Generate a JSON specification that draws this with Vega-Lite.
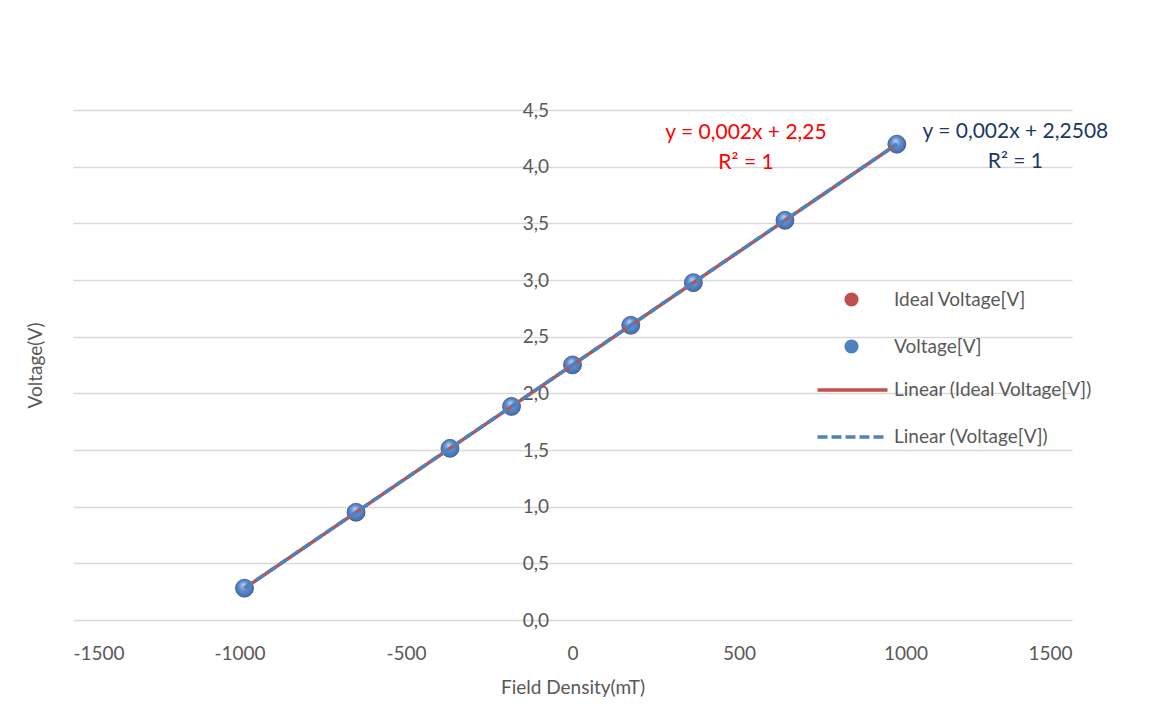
{
  "$schema": "https://vega.github.io/schema/vega-lite/v6.json",
  "width": 999,
  "height": 510,
  "autosize": {"type": "none"},
  "padding": {"left": 73, "top": 110, "right": 77, "bottom": 97},
  "background": "white",
  "config": {
    "view": {"stroke": null},
    "font": "Lato",
    "axis": {
      "labelFont": "Lato",
      "titleFont": "Lato",
      "labelColor": "#595959",
      "titleColor": "#595959",
      "labelFontSize": 19,
      "titleFontSize": 19,
      "titleFontWeight": "normal",
      "gridColor": "#d9d9d9",
      "gridWidth": 1.3,
      "domain": false,
      "ticks": false
    },
    "legend": {
      "labelFont": "Lato",
      "labelFontSize": 19,
      "labelColor": "#595959",
      "labelLimit": 0,
      "padding": 0
    }
  },
  "datasets": {
    "pts": [
      {"series": "Ideal Voltage[V]", "B": -985, "V": 0.28},
      {"series": "Ideal Voltage[V]", "B": -650, "V": 0.95},
      {"series": "Ideal Voltage[V]", "B": -368, "V": 1.514},
      {"series": "Ideal Voltage[V]", "B": -183, "V": 1.884},
      {"series": "Ideal Voltage[V]", "B": 0, "V": 2.25},
      {"series": "Ideal Voltage[V]", "B": 175, "V": 2.6},
      {"series": "Ideal Voltage[V]", "B": 363, "V": 2.976},
      {"series": "Ideal Voltage[V]", "B": 638, "V": 3.526},
      {"series": "Ideal Voltage[V]", "B": 974, "V": 4.198},
      {"series": "Voltage[V]", "B": -985, "V": 0.281},
      {"series": "Voltage[V]", "B": -650, "V": 0.951},
      {"series": "Voltage[V]", "B": -368, "V": 1.515},
      {"series": "Voltage[V]", "B": -183, "V": 1.885},
      {"series": "Voltage[V]", "B": 0, "V": 2.251},
      {"series": "Voltage[V]", "B": 175, "V": 2.601},
      {"series": "Voltage[V]", "B": 363, "V": 2.977},
      {"series": "Voltage[V]", "B": 638, "V": 3.527},
      {"series": "Voltage[V]", "B": 974, "V": 4.199}
    ],
    "eq": [
      {"ideal": "y = 0,002x + 2,25\nR² = 1", "measured": "y = 0,002x + 2,2508\nR² = 1"}
    ]
  },
  "data": {"name": "pts"},
  "layer": [
    {
      "mark": {"type": "point", "filled": true, "opacity": 0, "size": 200},
      "encoding": {
        "x": {
          "field": "B", "type": "quantitative",
          "scale": {"domain": [-1500, 1500], "nice": false, "zero": false},
          "axis": {
            "title": "Field Density(mT)",
            "grid": false,
            "values": [-1500, -1000, -500, 0, 500, 1000, 1500],
            "labelExpr": "toString(datum.value)",
            "labelPadding": 24,
            "titlePadding": 15
          }
        },
        "y": {
          "field": "V", "type": "quantitative",
          "scale": {"domain": [0, 4.5], "nice": false},
          "axis": {
            "title": "Voltage(V)",
            "grid": true,
            "values": [0, 0.5, 1, 1.5, 2, 2.5, 3, 3.5, 4, 4.5],
            "labelExpr": "replace(format(datum.value, '.1f'), '.', ',')",
            "offset": -499.5,
            "labelPadding": 24,
            "titleX": -537,
            "titleY": 255,
            "titleBaseline": "middle",
            "titleAlign": "center"
          }
        },
        "fill": {
          "field": "series", "type": "nominal",
          "scale": {"domain": ["Ideal Voltage[V]", "Voltage[V]"], "range": ["#c0504d", "#4f81bd"]},
          "legend": {
            "title": null,
            "orient": "none",
            "legendX": 769,
            "legendY": 180,
            "symbolOpacity": 1,
            "symbolSize": 200,
            "symbolStrokeWidth": 0,
            "rowPadding": 27,
            "labelOffset": 33
          }
        }
      }
    },
    {
      "transform": [{"filter": "datum.series === 'Ideal Voltage[V]'"}],
      "mark": {
        "type": "point", "filled": true, "size": 320,
        "stroke": "#9a3a37", "strokeWidth": 0.5, "opacity": 1,
        "fill": {
          "gradient": "radial", "x1": 0.42, "y1": 0.3, "r1": 0, "x2": 0.5, "y2": 0.5, "r2": 0.6,
          "stops": [
            {"offset": 0, "color": "#f2b8b6"},
            {"offset": 0.45, "color": "#c9605c"},
            {"offset": 1, "color": "#9a3a37"}
          ]
        }
      },
      "encoding": {
        "x": {"field": "B", "type": "quantitative"},
        "y": {"field": "V", "type": "quantitative"}
      }
    },
    {
      "transform": [{"filter": "datum.series === 'Voltage[V]'"}],
      "mark": {
        "type": "point", "filled": true, "size": 320,
        "stroke": "#3465a4", "strokeWidth": 0.5, "opacity": 1,
        "fill": {
          "gradient": "radial", "x1": 0.42, "y1": 0.3, "r1": 0, "x2": 0.5, "y2": 0.5, "r2": 0.6,
          "stops": [
            {"offset": 0, "color": "#b4d0f3"},
            {"offset": 0.45, "color": "#5b8ed0"},
            {"offset": 1, "color": "#3465a4"}
          ]
        }
      },
      "encoding": {
        "x": {"field": "B", "type": "quantitative"},
        "y": {"field": "V", "type": "quantitative"}
      }
    },
    {
      "transform": [{"regression": "V", "on": "B", "groupby": ["series"], "method": "linear"}],
      "mark": {"type": "line", "strokeWidth": 3.5},
      "encoding": {
        "x": {"field": "B", "type": "quantitative"},
        "y": {"field": "V", "type": "quantitative"},
        "stroke": {
          "field": "series", "type": "nominal",
          "scale": {"range": ["#c0504d", "#4f81bd"]},
          "legend": {
            "title": null,
            "orient": "none",
            "legendX": 742.5,
            "legendY": 243,
            "symbolType": "stroke",
            "symbolSize": 4900,
            "symbolStrokeWidth": 3.5,
            "rowPadding": -3,
            "labelOffset": 4.5,
            "labelExpr": "'Linear (' + datum.label + ')'"
          }
        },
        "strokeDash": {
          "field": "series", "type": "nominal",
          "scale": {"range": [[1, 0], [10, 4]]},
          "legend": {
            "title": null,
            "orient": "none",
            "legendX": 742.5,
            "legendY": 243,
            "symbolType": "stroke",
            "symbolSize": 4900,
            "symbolStrokeWidth": 3.5,
            "rowPadding": -3,
            "labelOffset": 4.5,
            "labelExpr": "'Linear (' + datum.label + ')'"
          }
        }
      }
    },
    {
      "data": {"name": "eq"},
      "mark": {"type": "text", "font": "Lato", "fontSize": 21, "fill": "#ff0000", "align": "center", "baseline": "middle", "lineBreak": "\n", "lineHeight": 30},
      "encoding": {
        "x": {"datum": 521},
        "y": {"datum": 4.297},
        "text": {"field": "ideal", "type": "nominal"}
      }
    },
    {
      "data": {"name": "eq"},
      "mark": {"type": "text", "font": "Lato", "fontSize": 21, "fill": "#203864", "align": "center", "baseline": "middle", "lineBreak": "\n", "lineHeight": 30},
      "encoding": {
        "x": {"datum": 1330},
        "y": {"datum": 4.309},
        "text": {"field": "measured", "type": "nominal"}
      }
    }
  ]
}
